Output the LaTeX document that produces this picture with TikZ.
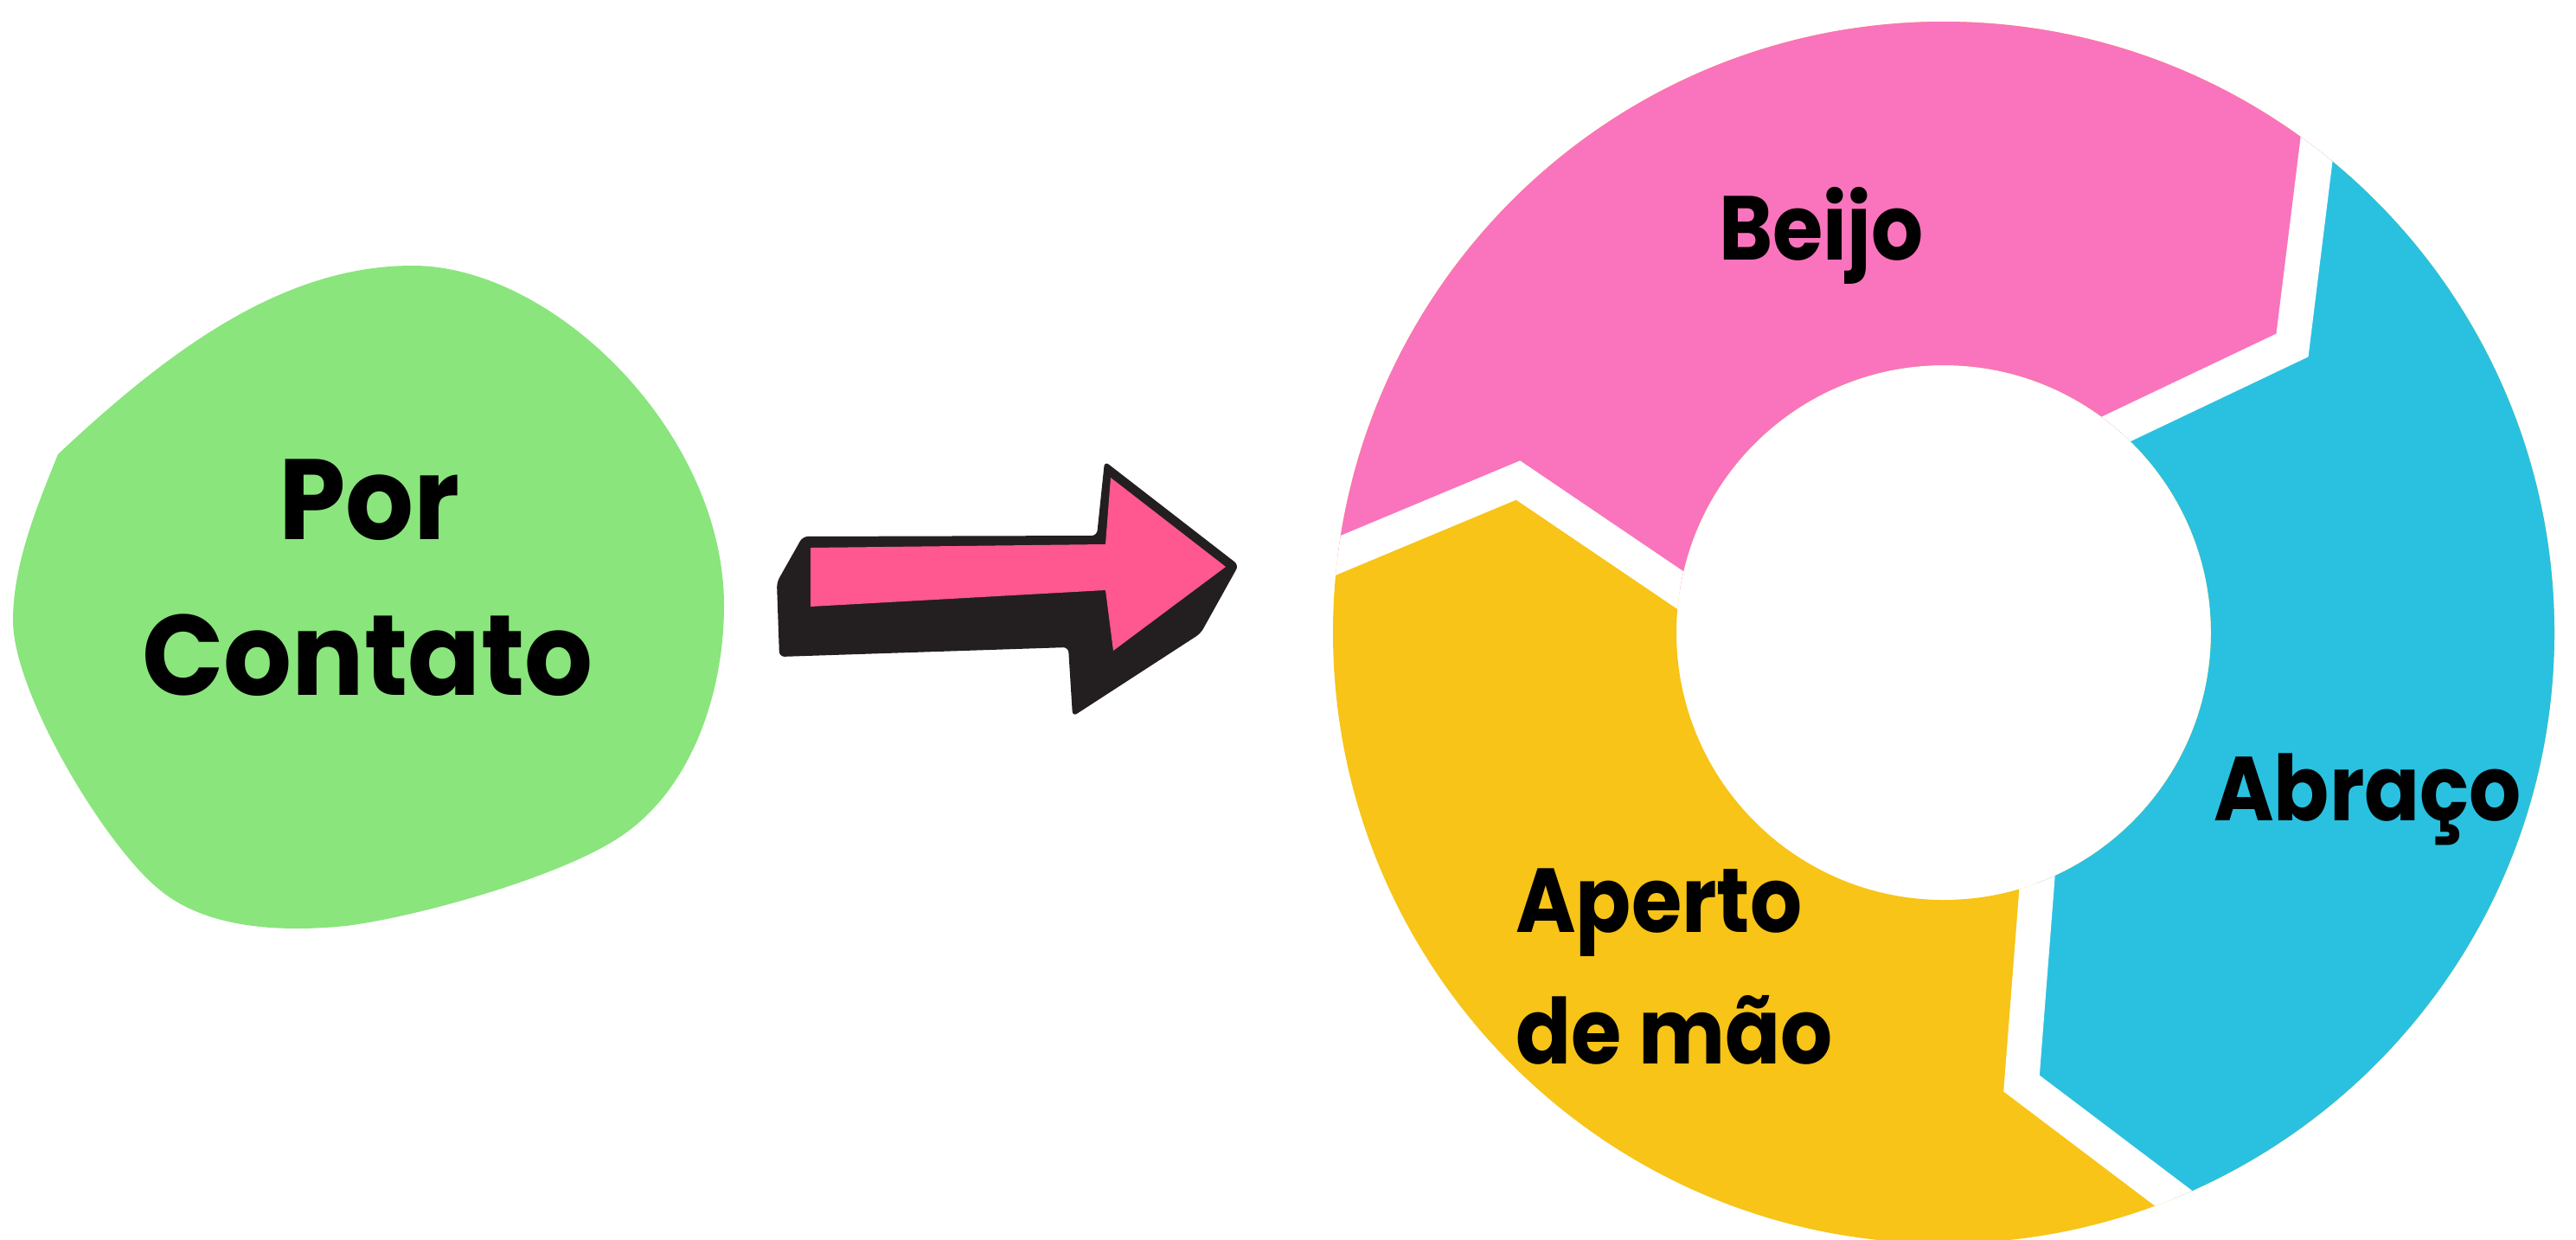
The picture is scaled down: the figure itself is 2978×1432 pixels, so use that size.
\documentclass[tikz,border=0pt]{standalone}
\usepackage{fontspec}
\newfontfamily\popfont{Poppins}[FakeStretch=0.9]
\newfontfamily\popblob{Poppins}[FakeStretch=0.94]
\definecolor{ringpink}{HTML}{F974BC}
\definecolor{ringblue}{HTML}{2AC1E0}
\definecolor{ringyellow}{HTML}{F7C417}
\definecolor{blobgreen}{HTML}{89E57C}
\definecolor{arrowpink}{HTML}{FF578F}
\definecolor{arrowdark}{HTML}{231F20}
\begin{document}
\begin{tikzpicture}[x=1pt,y=-1pt,
  lbl/.style={font={\popfont\bfseries\fontsize{105}{120}\selectfont}, text=black, inner sep=0pt, anchor=base west},
  blobtxt/.style={font={\popblob\bfseries\fontsize{132}{150}\selectfont}, text=black, inner sep=0pt, anchor=base},
  cutline/.style={white, line width=40pt, line join=miter, line cap=butt}]
\useasboundingbox (0,0) rectangle (2978,1432);
\fill[white] (0,0) rectangle (2978,1432);

% green blob
\fill[blobgreen] (67,525) .. controls (200,400) and (330,307) .. (477,307)
  .. controls (640,307) and (837,500) .. (837,700)
  .. controls (837,800) and (800,912) .. (717,967)
  .. controls (647,1014) and (480,1060) .. (400,1070)
  .. controls (320,1078) and (236,1072) .. (183,1027)
  .. controls (120,975) and (15,800) .. (15,717)
  .. controls (15,650) and (45,580) .. (67,525) -- cycle;
\node[blobtxt] (por) at (427,623) {Por};
\node[blobtxt] (contato) at (425,803) {Contato};

% arrow
\fill[arrowdark, rounded corners=6pt] (928,620) -- (898,673) -- (901,759) -- (1235,748) -- (1240,828)
  -- (1388,732) -- (1432,653) -- (1277,533) -- (1268,619) -- cycle;
\fill[arrowpink] (937,633) -- (937,701) -- (1278,682) -- (1287,752) -- (1417,655) -- (1284,552) -- (1278,629) -- cycle;

% ring
\coordinate (C) at (2247,731);
\coordinate (O1) at (1549,641); \coordinate (M1) at (1755,555); \coordinate (I1) at (1944,683);
\coordinate (O2) at (2678,173); \coordinate (M2) at (2650,399); \coordinate (I2) at (2446,496);
\coordinate (O3) at (2513,1385); \coordinate (M3) at (2337,1252); \coordinate (I3) at (2355,1020);
\begin{scope}[even odd rule]
\clip (C) circle[radius=706] (C) circle[radius=309];
\fill[ringyellow] (C) circle[radius=720];
\fill[ringpink] (1300,667) -- (1487,667) -- (O1) -- (M1) -- (I1) -- (2001,721) -- (C) -- (2385,525)
  -- (I2) -- (M2) -- (O2) -- (2686,105) -- (2700,-100) -- (1300,-100) -- cycle;
\fill[ringblue] (C) -- (2385,525) -- (I2) -- (M2) -- (O2) -- (2686,105) -- (3100,-100) -- (3100,1600)
  -- (2700,1600) -- (2645,1485) -- (2575,1432) -- (O3) -- (M3) -- (I3) -- (2360,950) -- cycle;
\draw[cutline] (1487,667) -- (O1) -- (M1) -- (I1) -- (2001,721);
\draw[cutline] (2385,525) -- (I2) -- (M2) -- (O2) -- (2686,105);
\draw[cutline] (2360,950) -- (I3) -- (M3) -- (O3) -- (2575,1432);
\end{scope}

\node[lbl] (beijo) at (1987,300) {Beijo};
\node[lbl] (abraco) at (2559,948) {Abraço};
\node[lbl] (aperto) at (1752,1077) {Aperto};
\node[lbl] (demao) at (1752,1229) {de mão};
\end{tikzpicture}
\end{document}
